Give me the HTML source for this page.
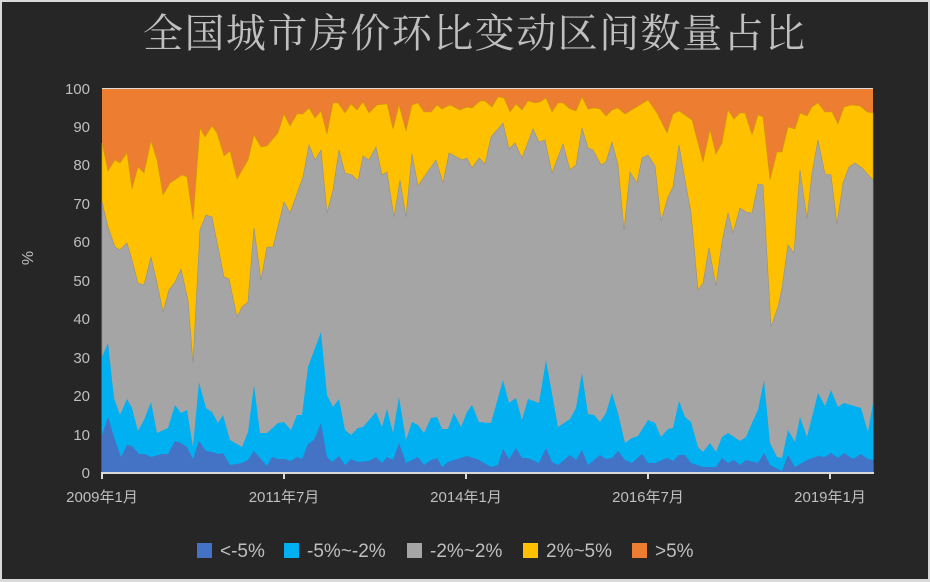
<!DOCTYPE html>
<html><head><meta charset="utf-8"><style>
html,body{margin:0;padding:0;background:#262626;}
svg{display:block;}
</style></head><body>
<svg width="930" height="582" xmlns="http://www.w3.org/2000/svg" font-family="Liberation Sans, Noto Sans CJK SC, sans-serif">
<rect x="0" y="0" width="930" height="582" fill="#d9d9d9"/>
<rect x="2" y="2" width="926" height="577" fill="#262626"/>
<text x="143" y="47" textLength="662" lengthAdjust="spacing" font-family="Noto Serif CJK SC, serif" font-size="40" fill="#bfbfbf">全国城市房价环比变动区间数量占比</text>
<text transform="translate(33,258) rotate(-90)" text-anchor="middle" font-size="16" fill="#bfbfbf">%</text>
<g font-size="15" fill="#bfbfbf" text-anchor="end">
<text x="90" y="478">0</text><text x="90" y="440">10</text><text x="90" y="401">20</text><text x="90" y="363">30</text><text x="90" y="324">40</text><text x="90" y="286">50</text><text x="90" y="247">60</text><text x="90" y="209">70</text><text x="90" y="170">80</text><text x="90" y="132">90</text><text x="90" y="94">100</text>
</g>
<rect x="102" y="88" width="771" height="384" fill="#ed7d31"/>
<polygon fill="#ffc000" stroke="#c9a000" stroke-width="0.6" points="102,472 102,143 108,171 115,160 120,163 127,153 132,189 138,167 144,173 151,141 157,160 163,195 170,183 182,175 187,177 193,220 200,128 205,137 212,126 217,133 224,156 230,151 237,179 248,160 254,135 261,147 267,146 278,133 284,114 290,126 297,114 303,114 309,108 315,118 321,111 327,134 333,103 338,103 345,113 351,104 357,110 363,102 369,113 377,105 387,104 393,129 399,105 406,131 412,105 418,103 424,112 431,112 437,105 442,109 450,105 460,110 467,107 472,108 480,101 485,101 492,107 498,97 504,98 510,112 516,104 522,110 528,101 535,103 540,102 546,98 552,112 558,103 563,103 570,109 576,111 582,97 588,109 595,108 600,109 606,116 612,110 618,108 625,114 635,108 648,100 657,113 667,133 673,114 679,111 692,120 703,162 710,130 716,154 722,143 728,110 734,119 740,113 745,113 752,135 758,115 763,117 770,180 777,152 782,152 788,127 795,129 800,113 807,116 812,107 818,103 825,112 832,112 838,124 844,107 852,105 860,106 867,112 873,113 873,472"/>
<polygon fill="#a5a5a5" stroke="#8f8f8f" stroke-width="0.6" points="102,472 102,202 108,227 115,247 120,250 127,243 132,260 138,283 144,285 151,257 157,283 163,312 169,290 175,282 181,269 188,300 193,363 200,230 206,215 212,217 218,247 224,277 229,279 237,317 242,307 248,302 254,228 261,280 267,247 273,247 284,202 290,213 303,177 309,145 315,160 321,150 327,213 333,190 339,150 345,173 352,175 358,181 363,156 369,160 376,147 382,175 387,172 394,217 400,180 406,217 412,154 418,186 424,177 436,160 443,183 449,153 462,160 467,158 472,168 479,158 485,164 491,137 503,123 509,149 515,143 522,158 533,129 539,142 545,140 552,173 563,144 570,170 576,165 582,128 588,148 593,150 601,165 606,162 612,142 618,165 624,230 630,172 637,183 642,158 648,155 655,166 661,221 668,197 673,187 679,145 685,180 691,213 698,290 703,283 709,248 716,286 722,242 728,213 733,233 740,208 746,212 752,213 758,184 763,185 771,327 778,307 782,288 788,245 794,253 800,170 807,219 812,173 818,140 825,174 831,175 837,224 843,183 849,167 855,163 862,168 873,180 873,472"/>
<polygon fill="#00b0f0" points="102,472 102,357 108,343 114,398 120,415 127,399 132,408 138,431 144,420 151,402 157,433 168,428 175,405 181,413 187,410 193,447 199,382 206,408 212,412 218,423 223,415 230,440 242,447 248,432 254,385 260,433 267,433 278,423 284,422 291,430 297,415 302,415 308,367 321,332 327,395 333,407 339,399 345,430 351,435 358,428 363,427 376,412 382,427 387,409 393,433 399,397 406,440 412,422 418,425 424,433 431,418 437,417 442,429 448,429 454,413 461,427 467,412 472,405 479,422 491,423 503,380 509,403 516,398 522,420 528,399 539,403 546,360 558,427 570,419 576,408 582,373 588,414 594,415 600,422 606,413 612,393 618,413 625,443 632,438 638,436 648,420 655,423 661,437 668,429 673,428 679,401 685,417 691,422 698,447 703,452 710,443 716,452 722,437 728,433 740,441 746,437 752,423 758,410 764,380 770,443 777,457 782,458 788,430 795,442 800,417 807,437 818,393 825,406 831,390 838,407 844,403 861,408 868,432 873,403 873,472"/>
<polygon fill="#4472c4" points="102,472 102,435 108,417 114,437 121,457 127,445 132,446 139,454 145,454 151,457 162,454 168,454 175,441 181,443 187,447 193,459 199,441 206,451 212,452 218,454 223,453 230,465 242,463 248,460 254,451 260,458 267,466 272,457 278,459 284,459 291,461 297,457 302,459 308,444 314,440 321,423 327,457 332,462 339,456 345,465 351,459 358,462 369,461 376,457 382,463 387,457 393,460 399,443 406,463 418,457 424,465 431,460 437,458 442,467 448,462 454,460 467,456 479,460 491,467 498,465 503,449 509,459 516,448 522,458 528,458 539,463 546,448 552,462 558,465 570,455 576,460 582,450 588,465 600,455 606,459 612,458 618,451 625,460 632,463 642,454 648,463 655,463 667,458 673,461 679,455 685,455 691,463 703,467 716,467 722,458 728,463 734,460 740,465 746,460 758,463 764,453 770,465 782,471 788,455 795,467 807,460 818,456 825,457 831,453 838,458 844,453 853,459 861,454 868,459 873,460 873,472"/>
<line x1="102" y1="88.5" x2="873" y2="88.5" stroke="#d9d9d9" stroke-width="1"/>
<g stroke="#d9d9d9" stroke-width="2">
<line x1="101" y1="473" x2="874" y2="473"/>
<line x1="102" y1="472" x2="102" y2="479"/><line x1="284" y1="472" x2="284" y2="479"/><line x1="466" y1="472" x2="466" y2="479"/><line x1="648" y1="472" x2="648" y2="479"/><line x1="830" y1="472" x2="830" y2="479"/>
</g>
<g font-size="15" fill="#bfbfbf" text-anchor="middle">
<text x="102" y="502">2009年1月</text><text x="284" y="502">2011年7月</text><text x="466" y="502">2014年1月</text><text x="648" y="502">2016年7月</text><text x="830" y="502">2019年1月</text>
</g>
<g font-size="19" fill="#bfbfbf">
<rect x="197" y="543" width="15" height="15" fill="#4472c4"/><text x="220" y="557">&lt;-5%</text>
<rect x="284" y="543" width="15" height="15" fill="#00b0f0"/><text x="307" y="557">-5%~-2%</text>
<rect x="407" y="543" width="15" height="15" fill="#a5a5a5"/><text x="430" y="557">-2%~2%</text>
<rect x="523" y="543" width="15" height="15" fill="#ffc000"/><text x="546" y="557">2%~5%</text>
<rect x="632" y="543" width="15" height="15" fill="#ed7d31"/><text x="655" y="557">&gt;5%</text>
</g>
</svg>
</body></html>
